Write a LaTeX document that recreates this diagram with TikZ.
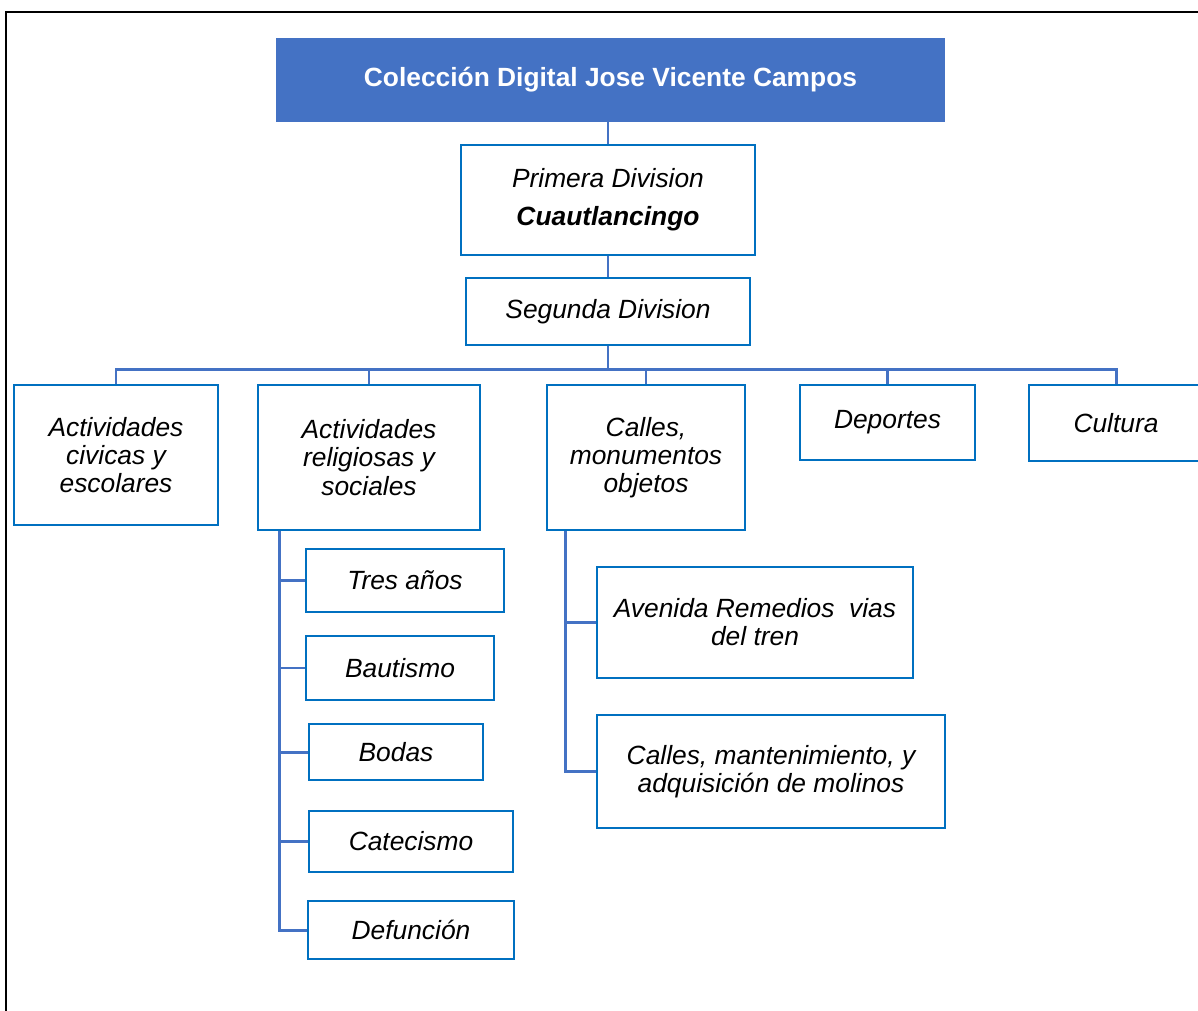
\documentclass[tikz,border=0pt]{standalone}
\usepackage{fontspec}
\setmainfont{Liberation Sans}
\usetikzlibrary{positioning}
\definecolor{boxblue}{RGB}{0,112,192}
\definecolor{linkblue}{RGB}{68,114,196}
\definecolor{headblue}{RGB}{68,114,196}

\begin{document}
\begin{tikzpicture}[x=0.02cm, y=-0.02cm,
  box/.style={draw=boxblue, line width=1.6pt, align=center, inner sep=2pt, font=\fontsize{15}{16}\selectfont\itshape},
  conn/.style={draw=linkblue, line width=1.7pt}]
  \useasboundingbox (0,0) rectangle (1198,1011);
  \draw[line width=1.2pt] (6,1011) -- (6,12) -- (1198,12);

  \node (coleccion) at (610.5,80) [fill=headblue, minimum width=13.38cm, minimum height=1.68cm, text=white, font=\fontsize{15}{16}\selectfont\bfseries] {Colección Digital Jose Vicente Campos};
  \node (primera) at (608,200) [box, minimum width=5.88cm, minimum height=2.2cm] {Primera Division\\[5.5pt] \textbf{Cuautlancingo}};
  \node (segunda) at (608,311.5) [box, minimum width=5.68cm, minimum height=1.34cm] {Segunda Division};

  \node (civicas) at (116,455) [box, minimum width=4.08cm, minimum height=2.8cm] {Actividades\\civicas y\\escolares};
  \node (religiosas) at (369,457.5) [box, minimum width=4.44cm, minimum height=2.9cm] {Actividades\\religiosas y\\sociales};
  \node (calles) at (646,457.5) [box, minimum width=3.96cm, minimum height=2.9cm] {Calles,\\monumentos\\objetos};
  \node (deportes) at (887.5,422.5) [box, minimum width=3.5cm, minimum height=1.5cm] {Deportes};
  \node (cultura) at (1116,423) [box, minimum width=3.48cm, minimum height=1.52cm] {Cultura};

  \node (tres) at (405,580.5) [box, minimum width=3.96cm, minimum height=1.26cm] {Tres años};
  \node (bautismo) at (400,668) [box, minimum width=3.76cm, minimum height=1.28cm] {Bautismo};
  \node (bodas) at (396,752) [box, minimum width=3.48cm, minimum height=1.12cm] {Bodas};
  \node (catecismo) at (411,841.5) [box, minimum width=4.08cm, minimum height=1.22cm] {Catecismo};
  \node (defuncion) at (411,930) [box, minimum width=4.12cm, minimum height=1.16cm] {Defunción};

  \node (avenida) at (755,622.5) [box, minimum width=6.32cm, minimum height=2.22cm] {Avenida Remedios\ \ vias\\del tren};
  \node (molinos) at (771,771.5) [box, minimum width=6.96cm, minimum height=2.26cm] {Calles, mantenimiento, y\\adquisición de molinos};

  \coordinate (relspine) at ([xshift=0.46cm]religiosas.south west);
  \coordinate (callspine) at ([xshift=0.4cm]calles.south west);

  \draw[conn] (primera.north) -- (primera.north |- coleccion.south);
  \draw[conn] (primera.south) -- (segunda.north);
  \foreach \n in {civicas,religiosas,calles,deportes,cultura}
    \draw[conn] (segunda.south) -- ++(0,23) -| (\n.north);
  \foreach \n in {tres,bautismo,bodas,catecismo,defuncion}
    \draw[conn] (relspine) |- (\n.west);
  \foreach \n in {avenida,molinos}
    \draw[conn] (callspine) |- (\n.west);
\end{tikzpicture}
\end{document}
